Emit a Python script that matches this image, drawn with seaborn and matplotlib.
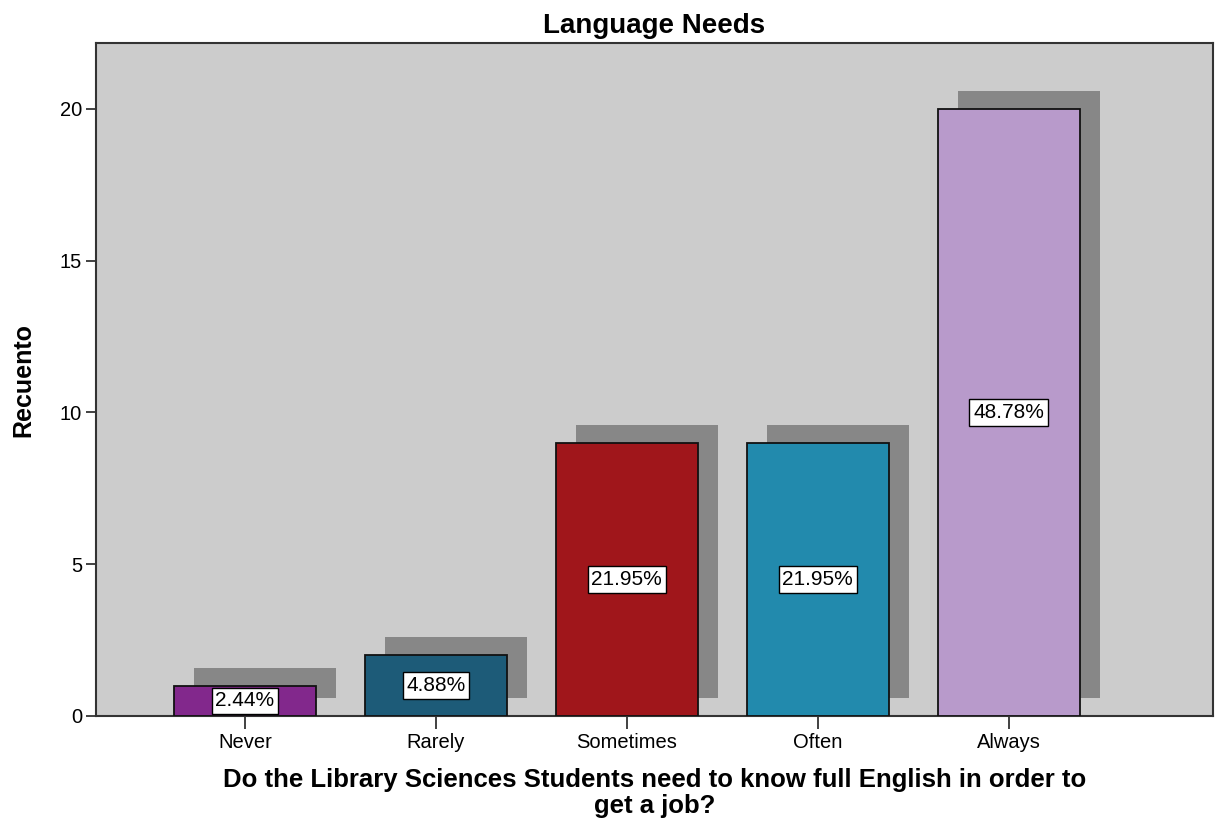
import numpy as np
import pandas as pd
import matplotlib
matplotlib.use('Agg')
import matplotlib.pyplot as plt
import matplotlib.transforms as mtransforms
from matplotlib.patches import Rectangle
import seaborn as sns

# data
answers = ['Never', 'Rarely', 'Sometimes', 'Often', 'Always']
counts = [1, 2, 9, 9, 20]
percent_labels = ['2.44%', '4.88%', '21.95%', '21.95%', '48.78%']
bar_colors = ['#82288c', '#1d5b78', '#a0161b', '#228aad', '#b89acb']

df = pd.DataFrame({'answer': answers, 'count': counts})

sns.set_style('white')
plt.rcParams['font.family'] = ['Liberation Sans', 'DejaVu Sans']
plt.rcParams['text.color'] = 'black'
plt.rcParams['xtick.color'] = 'black'
plt.rcParams['ytick.color'] = 'black'
plt.rcParams['axes.labelcolor'] = 'black'

fig = plt.figure(figsize=(12.17, 8.21), dpi=100)
ax = fig.add_axes([0.0789, 0.1279, 0.9178, 0.8197])
ax.set_facecolor('#cccccc')

sns.barplot(data=df, x='answer', y='count', hue='answer', palette=bar_colors,
            legend=False, width=0.745, edgecolor='#111111', linewidth=1.3,
            saturation=1, ax=ax, zorder=3)

# drop shadows: copy of each bar, shifted right and up
shift = mtransforms.ScaledTranslation(0.20, 0.18, fig.dpi_scale_trans)
for p in list(ax.patches):
    sh = Rectangle(p.get_xy(), p.get_width(), p.get_height(),
                   facecolor='#878787', edgecolor='none', zorder=2,
                   transform=ax.transData + shift)
    ax.add_patch(sh)

# percentage labels
for i, (c, lab) in enumerate(zip(counts, percent_labels)):
    ax.text(i, c / 2, lab, ha='center', va='center', fontsize=15, zorder=5,
            bbox=dict(boxstyle='square,pad=0.18', facecolor='white',
                      edgecolor='black', linewidth=1))

ax.set_xlim(-0.78, 5.07)
ax.set_ylim(0, 22.17)
ax.set_yticks([0, 5, 10, 15, 20])

for s in ax.spines.values():
    s.set_color('#333333')
    s.set_linewidth(1.5)

ax.tick_params(axis='y', direction='out', length=7, width=1.3, color='#333333',
               labelsize=14.5, pad=3, left=True)
ax.tick_params(axis='x', direction='out', length=9, width=1.3, color='#333333',
               labelsize=14.5, pad=3, bottom=True)

ax.set_title('Language Needs', fontsize=20, fontweight='bold', pad=7)
ax.set_ylabel('Recuento', fontsize=18, fontweight='bold', labelpad=18)
ax.set_xlabel('Do the Library Sciences Students need to know full English in order to\nget a job?',
              fontsize=18.5, fontweight='bold', labelpad=12, linespacing=1.08)

fig.savefig('out.png', dpi=100)
